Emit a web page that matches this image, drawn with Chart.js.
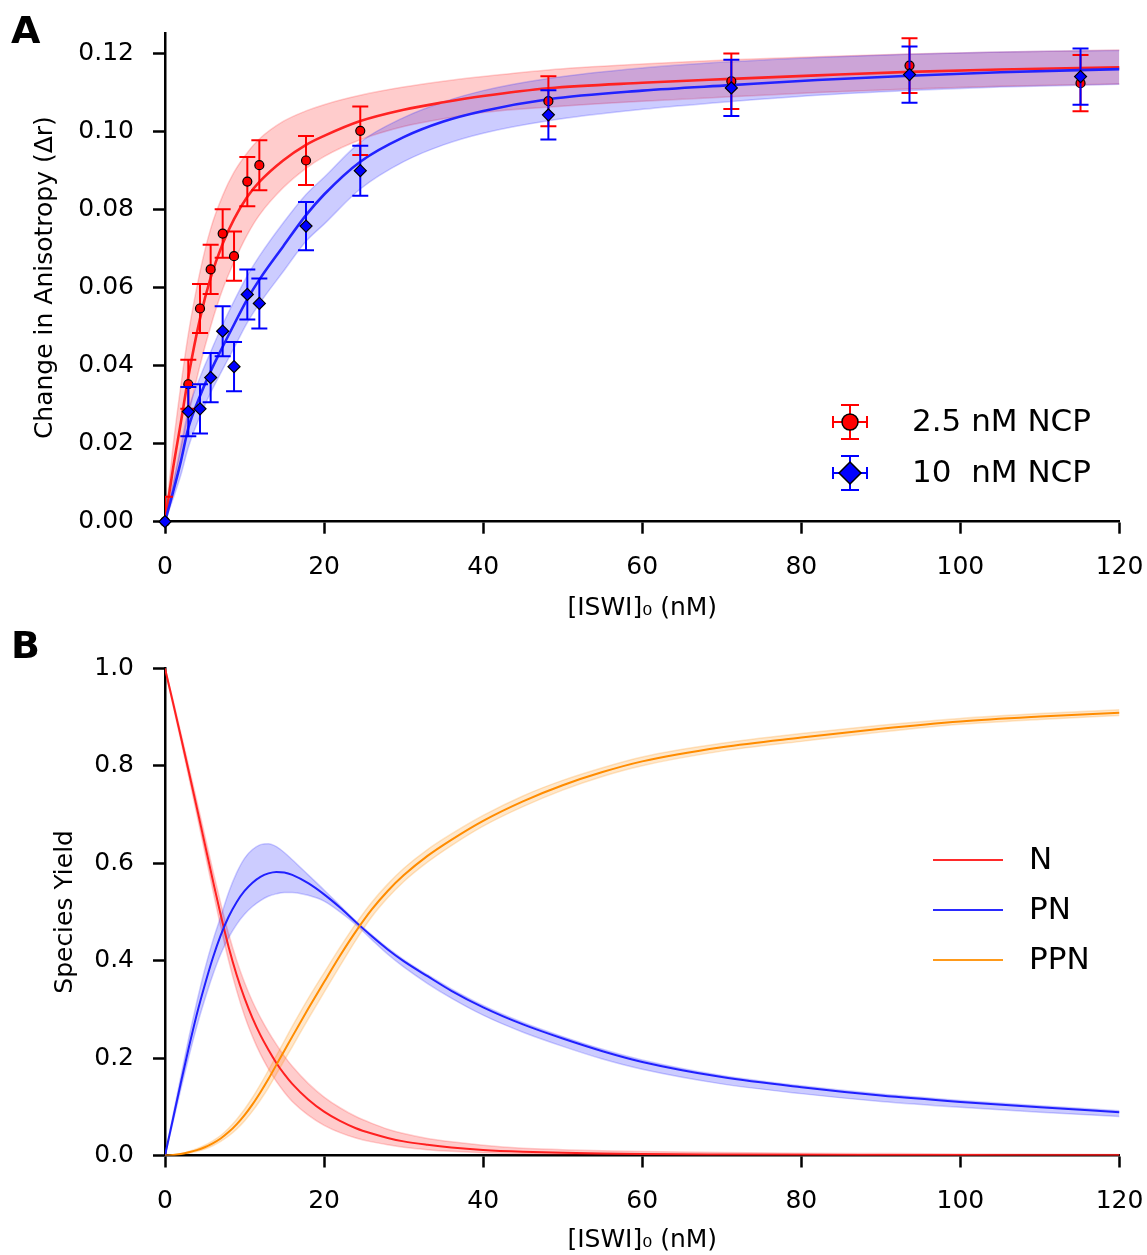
<!DOCTYPE html>
<html>
<head>
<meta charset="utf-8">
<script src="https://cdn.jsdelivr.net/npm/chart.js@4.4.1/dist/chart.umd.min.js"></script>
<style>
  html, body { margin: 0; padding: 0; background: #ffffff; }
  #wrap { position: relative; width: 1147px; height: 1255px; overflow: hidden; }
  #cA { position: absolute; left: 0; top: 0; }
  #cB { position: absolute; left: 0; top: 625px; }
</style>
</head>
<body>
<div id="wrap">
  <canvas id="cA" width="1147" height="625"></canvas>
  <canvas id="cB" width="1147" height="630"></canvas>
</div>
<script>
// ---------- tick labels ----------
const xTicks = [0, 20, 40, 60, 80, 100, 120];
const yTicksA = [0, 0.02, 0.04, 0.06, 0.08, 0.10, 0.12];
const yTicksB = [0, 0.2, 0.4, 0.6, 0.8, 1.0];

// ---------- panel A: measured anisotropy ----------
const iswiConc = [0, 2.93, 4.4, 5.74, 7.25, 8.68, 10.35, 11.86, 17.73, 24.55, 48.2, 71.2, 93.6, 115.1];
const ncp25 = [0, 0.0352, 0.0546, 0.0646, 0.0738, 0.0680, 0.0871, 0.0913, 0.0925, 0.1001, 0.1077, 0.1128, 0.1168, 0.1123];
const ncp25Err = [0.0064, 0.0063, 0.0063, 0.0063, 0.0062, 0.0063, 0.0063, 0.0064, 0.0063, 0.0062, 0.0064, 0.0071, 0.0070, 0.0072];
const ncp10 = [0, 0.0282, 0.0289, 0.0369, 0.0488, 0.0397, 0.0582, 0.0559, 0.0757, 0.0899, 0.1042, 0.1111, 0.1145, 0.1140];
const ncp10Err = [0, 0.0063, 0.0063, 0.0063, 0.0064, 0.0063, 0.0064, 0.0064, 0.0062, 0.0064, 0.0063, 0.0072, 0.0072, 0.0072];

// ---------- panel A: fitted curves and confidence bands ----------
const fitX = [0, 1, 2, 2.93, 4.4, 5.74, 7.25, 8.68, 10.35, 11.86, 14.85, 17.73, 20, 24.55, 30, 35, 40, 48.2, 60, 71.2, 82, 93.6, 105, 120];
const fit25 = [0, 0.0135, 0.0255, 0.037, 0.052, 0.0625, 0.0712, 0.0775, 0.0832, 0.087, 0.0925, 0.0965, 0.0988, 0.1026, 0.1055, 0.1074, 0.109, 0.111, 0.1124, 0.1134, 0.1143, 0.1152, 0.1158, 0.1164];
const fit25Hi = [0, 0.019, 0.035, 0.048, 0.064, 0.075, 0.0835, 0.0895, 0.0945, 0.098, 0.1025, 0.1052, 0.1068, 0.1092, 0.1113, 0.1128, 0.114, 0.1157, 0.1172, 0.1183, 0.1191, 0.1198, 0.1203, 0.1208];
const fit25Lo = [0, 0.009, 0.018, 0.027, 0.040, 0.050, 0.0595, 0.0665, 0.0735, 0.0785, 0.0855, 0.0905, 0.0935, 0.0978, 0.1012, 0.1032, 0.1048, 0.1062, 0.1077, 0.1088, 0.1099, 0.1108, 0.1115, 0.1121];
const fit10 = [0, 0.0075, 0.0155, 0.024, 0.0322, 0.0385, 0.0448, 0.0505, 0.057, 0.062, 0.0705, 0.0785, 0.0838, 0.0922, 0.0985, 0.1025, 0.1052, 0.1082, 0.1104, 0.1118, 0.1131, 0.1142, 0.1151, 0.1159];
const fit10Hi = [0, 0.0095, 0.0195, 0.0285, 0.037, 0.0435, 0.0505, 0.0565, 0.063, 0.068, 0.0765, 0.0838, 0.0882, 0.0972, 0.1035, 0.1075, 0.1104, 0.1135, 0.1162, 0.1178, 0.1189, 0.1197, 0.1203, 0.1207];
const fit10Lo = [0, 0.0058, 0.012, 0.019, 0.027, 0.033, 0.039, 0.0445, 0.051, 0.0558, 0.064, 0.0718, 0.0762, 0.0852, 0.0922, 0.0965, 0.0995, 0.1027, 0.1056, 0.1076, 0.1092, 0.1104, 0.1113, 0.112];

// ---------- panel B: species yields ----------
const yieldX = [0, 1, 2, 3, 4, 5, 6, 7, 8, 9, 10, 11, 12, 13, 14, 15, 16, 18, 20, 22, 24, 26, 28, 30, 33, 36, 40, 45, 50, 55, 60, 70, 80, 90, 100, 110, 120];
const yieldN = [1, 0.93, 0.859, 0.787, 0.714, 0.64, 0.566, 0.494, 0.428, 0.371, 0.323, 0.282, 0.247, 0.217, 0.19, 0.167, 0.147, 0.115, 0.09, 0.071, 0.056, 0.045, 0.036, 0.029, 0.022, 0.0165, 0.0115, 0.0078, 0.0055, 0.004, 0.003, 0.002, 0.0014, 0.001, 0.0008, 0.0006, 0.0005];
const yieldNHi = [1, 0.935, 0.867, 0.798, 0.728, 0.657, 0.586, 0.518, 0.455, 0.401, 0.355, 0.316, 0.283, 0.254, 0.228, 0.204, 0.183, 0.148, 0.12, 0.098, 0.08, 0.066, 0.054, 0.045, 0.035, 0.028, 0.021, 0.015, 0.012, 0.0095, 0.008, 0.006, 0.0048, 0.004, 0.0032, 0.0026, 0.0022];
const yieldNLo = [1, 0.925, 0.851, 0.776, 0.7, 0.623, 0.546, 0.47, 0.4, 0.339, 0.287, 0.244, 0.208, 0.178, 0.152, 0.13, 0.111, 0.083, 0.062, 0.047, 0.036, 0.028, 0.022, 0.017, 0.012, 0.0085, 0.0055, 0.0035, 0.0022, 0.0015, 0.001, 0.0005, 0.0003, 0.0002, 0.0001, 0.0001, 0];
const yieldPN = [0, 0.075, 0.15, 0.222, 0.29, 0.35, 0.405, 0.452, 0.49, 0.52, 0.543, 0.56, 0.572, 0.579, 0.582, 0.581, 0.576, 0.559, 0.536, 0.509, 0.479, 0.45, 0.423, 0.399, 0.368, 0.338, 0.304, 0.269, 0.24, 0.214, 0.192, 0.161, 0.14, 0.123, 0.11, 0.099, 0.089];
const yieldPNHi = [0, 0.082, 0.163, 0.242, 0.315, 0.382, 0.44, 0.49, 0.54, 0.58, 0.61, 0.628, 0.638, 0.64, 0.634, 0.622, 0.607, 0.576, 0.545, 0.513, 0.481, 0.453, 0.426, 0.402, 0.371, 0.342, 0.308, 0.273, 0.244, 0.218, 0.196, 0.164, 0.143, 0.126, 0.113, 0.102, 0.092];
const yieldPNLo = [0, 0.068, 0.137, 0.203, 0.265, 0.32, 0.37, 0.413, 0.447, 0.474, 0.495, 0.511, 0.523, 0.532, 0.537, 0.54, 0.54, 0.534, 0.522, 0.5, 0.474, 0.443, 0.413, 0.387, 0.353, 0.323, 0.288, 0.253, 0.224, 0.198, 0.177, 0.147, 0.127, 0.111, 0.099, 0.089, 0.08];
const yieldPPN = [0, 0.0008, 0.003, 0.0065, 0.011, 0.017, 0.025, 0.035, 0.048, 0.064, 0.083, 0.105, 0.13, 0.157, 0.186, 0.215, 0.244, 0.301, 0.356, 0.41, 0.46, 0.505, 0.543, 0.575, 0.615, 0.648, 0.687, 0.727, 0.76, 0.787, 0.809, 0.838, 0.858, 0.876, 0.891, 0.901, 0.909];
const yieldPPNHi = [0, 0.001, 0.004, 0.0085, 0.014, 0.021, 0.03, 0.041, 0.056, 0.074, 0.095, 0.119, 0.146, 0.175, 0.205, 0.235, 0.265, 0.322, 0.375, 0.427, 0.476, 0.52, 0.557, 0.589, 0.628, 0.66, 0.698, 0.738, 0.77, 0.796, 0.818, 0.846, 0.866, 0.883, 0.897, 0.907, 0.915];
const yieldPPNLo = [0, 0.0005, 0.002, 0.0045, 0.008, 0.013, 0.02, 0.029, 0.04, 0.054, 0.071, 0.091, 0.114, 0.139, 0.167, 0.195, 0.223, 0.28, 0.335, 0.389, 0.442, 0.49, 0.529, 0.562, 0.602, 0.636, 0.676, 0.716, 0.75, 0.778, 0.8, 0.83, 0.85, 0.869, 0.885, 0.895, 0.903];

// ---------- helpers ----------
const FONT = 'DejaVu Sans';
Chart.defaults.font.family = FONT;
Chart.defaults.color = '#000';
const pts = (xs, ys) => xs.map((x, i) => ({ x: x, y: ys[i] }));

function lineDs(xs, ys, color, width, order) {
  return { data: pts(xs, ys), borderColor: color, borderWidth: width, pointRadius: 0,
           cubicInterpolationMode: 'monotone', fill: false, order: order };
}
function bandDs(xs, ys, edge, fillColor, isUpper, order) {
  return { data: pts(xs, ys), borderColor: edge, borderWidth: 1.5, pointRadius: 0,
           cubicInterpolationMode: 'monotone', backgroundColor: fillColor,
           fill: isUpper ? '+1' : false, order: order };
}

const errorBars = {
  id: 'errorBars',
  beforeDatasetDraw(chart, args) {
    const ds = chart.data.datasets[args.index];
    if (!ds.errors) return;
    const ctx = chart.ctx, xs = chart.scales.x, ys = chart.scales.y, a = chart.chartArea;
    ctx.save();
    ctx.beginPath();
    ctx.rect(a.left, a.top - 20, a.right - a.left + 20, a.bottom - a.top + 20);
    ctx.clip();
    ctx.strokeStyle = ds.errorColor;
    ctx.lineWidth = 2;
    ds.data.forEach((p, i) => {
      const e = ds.errors[i];
      if (!e) return;
      const px = xs.getPixelForValue(p.x);
      const y1 = ys.getPixelForValue(p.y + e);
      const y2 = Math.min(ys.getPixelForValue(p.y - e), a.bottom);
      ctx.beginPath();
      ctx.moveTo(px, y1); ctx.lineTo(px, y2);
      ctx.moveTo(px - 8, y1); ctx.lineTo(px + 8, y1);
      if (y2 < a.bottom) { ctx.moveTo(px - 8, y2); ctx.lineTo(px + 8, y2); }
      ctx.stroke();
    });
    ctx.restore();
  }
};

function axisCommon(ticksArr, fmt, title, titlePad) {
  return {
    type: 'linear',
    afterBuildTicks: s => { s.ticks = ticksArr.map(v => ({ value: v })); },
    grid: { drawOnChartArea: false, drawTicks: true, tickLength: 12, tickWidth: 2.5, tickColor: '#000' },
    border: { display: true, color: '#000', width: 2.5 },
    ticks: { color: '#000', font: { family: FONT, size: 25 }, autoSkip: false, maxRotation: 0, minRotation: 0,
             callback: v => fmt(v) },
    title: { display: true, text: title, color: '#000', font: { family: FONT, size: 25 }, padding: titlePad }
  };
}

// ---------- legend / label plugins ----------
function drawMarker(ctx, x, y, style, fill) {
  ctx.save();
  ctx.fillStyle = fill; ctx.strokeStyle = '#000'; ctx.lineWidth = 1.5;
  ctx.beginPath();
  if (style === 'circle') {
    ctx.arc(x, y, 8, 0, Math.PI * 2);
  } else {
    ctx.moveTo(x - 11, y); ctx.lineTo(x, y - 11); ctx.lineTo(x + 11, y); ctx.lineTo(x, y + 11); ctx.closePath();
  }
  ctx.fill(); ctx.stroke();
  ctx.restore();
}
const legendA = {
  id: 'legendA',
  afterDraw(chart) {
    const ctx = chart.ctx;
    ctx.save();
    ctx.fillStyle = '#000';
    ctx.font = 'bold 38px ' + FONT;
    ctx.textBaseline = 'alphabetic';
    ctx.fillText('A', 11, 43);
    const items = [
      { y: 422, color: '#ff0000', fill: '#ff0000', style: 'circle', text: '2.5 nM NCP' },
      { y: 473, color: '#0000ff', fill: '#0000ff', style: 'diamond', text: '10  nM NCP' }
    ];
    items.forEach(it => {
      const cx = 850;
      ctx.strokeStyle = it.color; ctx.lineWidth = 2;
      ctx.beginPath();
      ctx.moveTo(cx - 17, it.y); ctx.lineTo(cx + 17, it.y);
      ctx.moveTo(cx - 17, it.y - 6); ctx.lineTo(cx - 17, it.y + 6);
      ctx.moveTo(cx + 17, it.y - 6); ctx.lineTo(cx + 17, it.y + 6);
      ctx.moveTo(cx, it.y - 17); ctx.lineTo(cx, it.y + 17);
      ctx.moveTo(cx - 9, it.y - 17); ctx.lineTo(cx + 9, it.y - 17);
      ctx.moveTo(cx - 9, it.y + 17); ctx.lineTo(cx + 9, it.y + 17);
      ctx.stroke();
      drawMarker(ctx, cx, it.y, it.style, it.fill);
      ctx.fillStyle = '#000';
      ctx.font = '31px ' + FONT;
      ctx.textBaseline = 'middle';
      ctx.fillText(it.text, 912, it.y + 1);
    });
    ctx.restore();
  }
};
const legendB = {
  id: 'legendB',
  afterDraw(chart) {
    const ctx = chart.ctx;
    ctx.save();
    ctx.fillStyle = '#000';
    ctx.font = 'bold 38px ' + FONT;
    ctx.textBaseline = 'alphabetic';
    ctx.fillText('B', 11, 33);
    const items = [
      { y: 235, color: '#ff2a2a', text: 'N' },
      { y: 285, color: '#2a2aff', text: 'PN' },
      { y: 335, color: '#ff9a1a', text: 'PPN' }
    ];
    items.forEach(it => {
      ctx.strokeStyle = it.color; ctx.lineWidth = 2;
      ctx.beginPath(); ctx.moveTo(933, it.y); ctx.lineTo(1003, it.y); ctx.stroke();
      ctx.fillStyle = '#000';
      ctx.font = '31px ' + FONT;
      ctx.textBaseline = 'middle';
      ctx.fillText(it.text, 1029, it.y + 1);
    });
    ctx.restore();
  }
};

// ---------- chart A ----------
const xA = axisCommon(xTicks, v => String(v), '[ISWI]\u2080 (nM)', { top: 0, bottom: 2 });
xA.min = 0; xA.max = 120; xA.position = 'bottom';
xA.ticks.padding = 19;
xA.afterFit = s => { s.height = 625 - 521.7; s.paddingLeft = 0; s.paddingRight = 0; };
const yA = axisCommon(yTicksA, v => v.toFixed(2), 'Change in Anisotropy (\u0394r)', { top: 30, bottom: 0 });
yA.min = 0; yA.max = 0.125; yA.position = 'left';
yA.ticks.padding = 19;
yA.afterFit = s => { s.width = 165; s.paddingTop = 0; s.paddingBottom = 0; };

new Chart(document.getElementById('cA'), {
  type: 'line',
  data: {
    datasets: [
      { data: pts(iswiConc, ncp10), errors: ncp10Err, errorColor: '#0000ff', showLine: false,
        pointStyle: 'rectRot', pointRadius: 6, pointBackgroundColor: '#0000ff', pointBorderColor: '#000',
        pointBorderWidth: 1.2, clip: false, order: 0 },
      { data: pts(iswiConc, ncp25), errors: ncp25Err, errorColor: '#ff0000', showLine: false,
        pointStyle: 'circle', pointRadius: 4.5, pointBackgroundColor: '#ff0000', pointBorderColor: '#000',
        pointBorderWidth: 1.2, clip: false, order: 1 },
      lineDs(fitX, fit10, '#2222ff', 2.6, 2),
      lineDs(fitX, fit25, '#ff2222', 2.6, 3),
      bandDs(fitX, fit10Hi, 'rgba(40,40,255,0.22)', 'rgba(0,0,255,0.2)', true, 4),
      bandDs(fitX, fit10Lo, 'rgba(40,40,255,0.22)', 'rgba(0,0,255,0.2)', false, 4),
      bandDs(fitX, fit25Hi, 'rgba(255,40,40,0.22)', 'rgba(255,0,0,0.2)', true, 6),
      bandDs(fitX, fit25Lo, 'rgba(255,40,40,0.22)', 'rgba(255,0,0,0.2)', false, 6)
    ]
  },
  options: {
    responsive: false, animation: false, events: [],
    layout: { padding: { top: 33.6, right: 27.5, left: 0, bottom: 0 } },
    plugins: { legend: { display: false }, tooltip: { enabled: false }, filler: { propagate: false } },
    scales: { x: xA, y: yA }
  },
  plugins: [errorBars, legendA]
});

// ---------- chart B ----------
const xB = axisCommon(xTicks, v => String(v), '[ISWI]\u2080 (nM)', { top: 0, bottom: 0 });
xB.min = 0; xB.max = 120; xB.position = 'bottom';
xB.ticks.padding = 19;
xB.afterFit = s => { s.height = 630 - 530.5; s.paddingLeft = 0; s.paddingRight = 0; };
const yB = axisCommon(yTicksB, v => v.toFixed(1), 'Species Yield', { top: 50, bottom: 0 });
yB.min = 0; yB.max = 1.0; yB.position = 'left';
yB.ticks.padding = 19;
yB.afterFit = s => { s.width = 165; s.paddingTop = 0; s.paddingBottom = 0; };

new Chart(document.getElementById('cB'), {
  type: 'line',
  data: {
    datasets: [
      lineDs(yieldX, yieldPPN, '#ff8c00', 2, 0),
      lineDs(yieldX, yieldPN, '#2020ff', 2, 1),
      lineDs(yieldX, yieldN, '#ff2020', 2, 2),
      bandDs(yieldX, yieldPPNHi, 'rgba(255,140,0,0.22)', 'rgba(255,140,0,0.2)', true, 3),
      bandDs(yieldX, yieldPPNLo, 'rgba(255,140,0,0.22)', 'rgba(255,140,0,0.2)', false, 3),
      bandDs(yieldX, yieldPNHi, 'rgba(40,40,255,0.22)', 'rgba(0,0,255,0.2)', true, 5),
      bandDs(yieldX, yieldPNLo, 'rgba(40,40,255,0.22)', 'rgba(0,0,255,0.2)', false, 5),
      bandDs(yieldX, yieldNHi, 'rgba(255,40,40,0.22)', 'rgba(255,0,0,0.2)', true, 7),
      bandDs(yieldX, yieldNLo, 'rgba(255,40,40,0.22)', 'rgba(255,0,0,0.2)', false, 7)
    ]
  },
  options: {
    responsive: false, animation: false, events: [],
    layout: { padding: { top: 43.3, right: 27.5, left: 0, bottom: 0 } },
    plugins: { legend: { display: false }, tooltip: { enabled: false }, filler: { propagate: false } },
    scales: { x: xB, y: yB }
  },
  plugins: [legendB]
});
</script>
</body>
</html>
